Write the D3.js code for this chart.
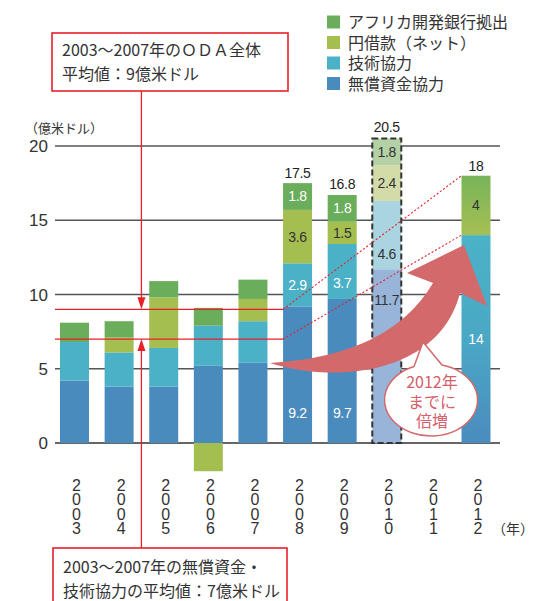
<!DOCTYPE html>
<html>
<head>
<meta charset="utf-8">
<script src="https://cdn.jsdelivr.net/npm/d3@7"></script>
<style>
  body { margin: 0; background: #fff; }
  svg { display: block; }
  .jp { font-family: "Noto Sans CJK JP", sans-serif; }
  .num { font-family: "Liberation Sans", Arial, sans-serif; }
</style>
</head>
<body>
<div id="chart"></div>
<script>
// Data (億米ドル)
const years = ["2003", "2004", "2005", "2006", "2007", "2008", "2009", "2010", "2011", "2012"];
const grantAid = [4.2, 3.8, 3.8, 5.2, 5.4, 9.2, 9.7, 11.7, 0, 0];
const techCoop = [2.6, 2.3, 2.6, 2.7, 2.8, 2.9, 3.7, 4.6, 0, 0];
const yenLoan  = [0, 1.0, 3.4, -1.9, 1.5, 3.6, 1.5, 2.4, 0, 0];
const afdbLoan = [1.3, 1.1, 1.1, 1.2, 1.3, 1.8, 1.8, 1.8, 0, 0];
const totalLabels = ["", "", "", "", "", "17.5", "16.8", "20.5", "", "18"];
const labelledYears = ["2008", "2009", "2010"];
const projectedYear = "2010";
const targetYear = "2012";
const targetGrantTech = 14;
const targetLoanAfdb = 4;
const yTicks = [0, 5, 10, 15, 20];
const avgAll = 9;
const avgGrantTech = 7;

const seriesKeys = ["grant", "tech", "loan", "afdb"];
const seriesNames = {
  afdb: "アフリカ開発銀行拠出",
  loan: "円借款（ネット）",
  tech: "技術協力",
  grant: "無償資金協力"
};
const colors = { afdb: "#6aad5a", loan: "#a5be50", tech: "#4bb1c6", grant: "#4a8bbd" };
const fadedColors = { afdb: "#b3d1a4", loan: "#d3dca9", tech: "#a9d4e0", grant: "#98b4d8" };

const table = years.map((yr, i) => ({
  year: yr, grant: grantAid[i], tech: techCoop[i], loan: yenLoan[i], afdb: afdbLoan[i]
}));

const width = 537, height = 601;
const svg = d3.select("#chart").append("svg")
  .attr("width", width)
  .attr("height", height);

const defs = svg.append("defs");
const g1 = defs.append("linearGradient").attr("id", "gLow").attr("x1", 0).attr("y1", 0).attr("x2", 0).attr("y2", 1);
g1.append("stop").attr("offset", "0%").attr("stop-color", "#4bb2c7");
g1.append("stop").attr("offset", "50%").attr("stop-color", "#4aa8c5");
g1.append("stop").attr("offset", "100%").attr("stop-color", "#4a8cbe");
const g2 = defs.append("linearGradient").attr("id", "gHigh").attr("x1", 0).attr("y1", 0).attr("x2", 0).attr("y2", 1);
g2.append("stop").attr("offset", "0%").attr("stop-color", "#78b45a");
g2.append("stop").attr("offset", "100%").attr("stop-color", "#a6bf52");

// Scales
const x = d3.scaleBand()
  .domain(years)
  .range([52.2, 498.3])
  .paddingInner(0.35)
  .paddingOuter(0.175);

const y = d3.scaleLinear()
  .domain([0, 20])
  .range([443, 146]);

// Gridlines
svg.append("g").selectAll("line")
  .data(yTicks)
  .enter()
  .append("line")
  .attr("x1", 55)
  .attr("x2", 500)
  .attr("y1", d => y(d))
  .attr("y2", d => y(d))
  .attr("stroke", d => d === 0 ? "#333" : "#555")
  .attr("stroke-width", d => d === 0 ? 1.6 : 1.3);

svg.append("g").selectAll("text")
  .data(yTicks)
  .enter()
  .append("text")
  .attr("class", "num")
  .attr("x", 48)
  .attr("y", d => y(d) + 6)
  .attr("text-anchor", "end")
  .attr("font-size", 17)
  .attr("fill", "#333")
  .text(d => d);

svg.append("text")
  .attr("class", "jp")
  .attr("x", 25)
  .attr("y", 133)
  .attr("font-size", 13)
  .attr("fill", "#333")
  .text("（億米ドル）");

// Stacked bars
const stack = d3.stack().keys(seriesKeys).offset(d3.stackOffsetDiverging);
const stacked = stack(table);

stacked.forEach(layer => {
  const key = layer.key;
  svg.append("g").selectAll("rect")
    .data(layer.filter(d => d[1] !== d[0]))
    .enter()
    .append("rect")
    .attr("x", d => x(d.data.year))
    .attr("width", x.bandwidth())
    .attr("y", d => y(Math.max(d[0], d[1])))
    .attr("height", d => Math.abs(y(d[0]) - y(d[1])))
    .attr("fill", d => d.data.year === projectedYear ? fadedColors[key] : colors[key]);
});

// Target year bar
const tx = x(targetYear);
svg.append("rect")
  .attr("x", tx).attr("width", x.bandwidth())
  .attr("y", y(targetGrantTech)).attr("height", y(0) - y(targetGrantTech))
  .attr("fill", "url(#gLow)");
svg.append("rect")
  .attr("x", tx).attr("width", x.bandwidth())
  .attr("y", y(targetGrantTech + targetLoanAfdb)).attr("height", y(targetGrantTech) - y(targetGrantTech + targetLoanAfdb))
  .attr("fill", "url(#gHigh)");

// Dashed frame around projected year
const pIdx = years.indexOf(projectedYear);
const pTop = grantAid[pIdx] + techCoop[pIdx] + yenLoan[pIdx] + afdbLoan[pIdx];
svg.append("rect")
  .attr("x", x(projectedYear))
  .attr("width", x.bandwidth())
  .attr("y", y(pTop))
  .attr("height", y(0) - y(pTop))
  .attr("fill", "none")
  .attr("stroke", "#333")
  .attr("stroke-width", 2)
  .attr("stroke-dasharray", "6,3");

// Segment labels
const labelNudge = { "2009-tech": 12, "2010-tech": 19 };
const grantLabelAt = { "2008": 2, "2009": 2, "2010": 9.6 };
stacked.forEach(layer => {
  const key = layer.key;
  layer.filter(d => labelledYears.includes(d.data.year)).forEach(d => {
    const yr = d.data.year;
    let cy = key === "grant" ? y(grantLabelAt[yr]) : y((d[0] + d[1]) / 2);
    cy += labelNudge[yr + "-" + key] || 0;
    const dark = yr === projectedYear || key === "loan";
    svg.append("text")
      .attr("class", "num")
      .attr("x", x(yr) + x.bandwidth() / 2)
      .attr("y", cy + 5)
      .attr("text-anchor", "middle")
      .attr("font-size", 14)
      .attr("letter-spacing", -0.3)
      .attr("fill", dark ? "#333" : "#fff")
      .text(d.data[key]);
  });
});

svg.append("text")
  .attr("class", "num")
  .attr("x", tx + x.bandwidth() / 2)
  .attr("y", y(targetGrantTech + targetLoanAfdb / 2) + 5)
  .attr("text-anchor", "middle").attr("font-size", 14).attr("fill", "#333")
  .text(targetLoanAfdb);

// Total labels
svg.append("g").selectAll("text")
  .data(years.map((yr, i) => ({ yr, label: totalLabels[i] })).filter(d => d.label))
  .enter()
  .append("text")
  .attr("class", "num")
  .attr("x", d => x(d.yr) + x.bandwidth() / 2)
  .attr("y", d => y(+d.label) - (d.yr === projectedYear ? 7 : 5))
  .attr("text-anchor", "middle")
  .attr("font-size", 14)
  .attr("letter-spacing", -0.3)
  .attr("fill", "#222")
  .text(d => d.label);

// Year labels (stacked digits)
const yearText = svg.append("g").selectAll("text")
  .data(years)
  .enter()
  .append("text")
  .attr("class", "num")
  .attr("text-anchor", "middle")
  .attr("font-size", 16)
  .attr("fill", "#333");
yearText.each(function (yr) {
  const t = d3.select(this);
  yr.split("").forEach((ch, j) => {
    t.append("tspan")
      .attr("x", x(yr) + x.bandwidth() / 2 + 2)
      .attr("y", 491 + j * 14.4)
      .text(ch);
  });
});
svg.append("text")
  .attr("class", "jp")
  .attr("x", 492).attr("y", 534)
  .attr("font-size", 14).attr("fill", "#333")
  .text("（年）");

// Average lines
const red = "#e8202a";
const xLeft = 55;
const x2008 = x("2008");
[avgAll, avgGrantTech].forEach(v => {
  svg.append("line")
    .attr("x1", xLeft).attr("x2", x2008)
    .attr("y1", y(v)).attr("y2", y(v))
    .attr("stroke", red).attr("stroke-width", 1.3);
});
[[avgAll, targetGrantTech + targetLoanAfdb], [avgGrantTech, targetGrantTech]].forEach(([a, b]) => {
  svg.append("line")
    .attr("x1", x2008).attr("y1", y(a))
    .attr("x2", tx).attr("y2", y(b))
    .attr("stroke", red).attr("stroke-width", 1.1)
    .attr("stroke-dasharray", "2,2");
});

// Pointer lines from annotation boxes
const px = (x("2004") + x.bandwidth() + x("2005")) / 2;
svg.append("line").attr("x1", px).attr("x2", px).attr("y1", 91).attr("y2", y(avgAll) - 10)
  .attr("stroke", red).attr("stroke-width", 1.3);
svg.append("path")
  .attr("d", `M${px - 4},${y(avgAll) - 12} L${px + 4},${y(avgAll) - 12} L${px},${y(avgAll)} Z`)
  .attr("fill", red);
svg.append("line").attr("x1", px).attr("x2", px).attr("y1", 548).attr("y2", y(avgGrantTech) + 10)
  .attr("stroke", red).attr("stroke-width", 1.3);
svg.append("path")
  .attr("d", `M${px - 4},${y(avgGrantTech) + 12} L${px + 4},${y(avgGrantTech) + 12} L${px},${y(avgGrantTech)} Z`)
  .attr("fill", red);

// Big curved arrow
svg.append("path")
  .attr("d", "M270,363 Q390,356 433,283 L407,273 L464,245 L487,306 L460,293 C440,372 340,385 270,363 Z")
  .attr("fill", "#d4696c");

// Target bar lower label drawn after gradient
svg.append("text")
  .attr("class", "num")
  .attr("x", tx + x.bandwidth() / 2)
  .attr("y", y(targetGrantTech / 2) + 5)
  .attr("text-anchor", "middle").attr("font-size", 14).attr("fill", "#fff")
  .text(targetGrantTech);

// Speech bubble
svg.append("path")
  .attr("d", "M414,366.5 L423,342 L442,365 A46.5 36 0 1 1 414,366.5 Z")
  .attr("fill", "#fff")
  .attr("stroke", "#d4696c")
  .attr("stroke-width", 1.5);
const bubbleText = svg.append("text")
  .attr("class", "jp")
  .attr("text-anchor", "middle")
  .attr("font-size", 16)
  .attr("fill", "#d4606a");
["2012年", "までに", "倍増"].forEach((t, i) => {
  bubbleText.append("tspan")
    .attr("x", 432).attr("y", 388 + i * 19.5)
    .text(t);
});

// Annotation boxes
function box(bx, by, bw, bh, lines, baseY) {
  svg.append("rect")
    .attr("x", bx).attr("y", by).attr("width", bw).attr("height", bh)
    .attr("fill", "#fff").attr("stroke", red).attr("stroke-width", 1.6);
  lines.forEach((t, i) => {
    svg.append("text")
      .attr("class", "jp")
      .attr("x", bx + 10)
      .attr("y", baseY + i * 24)
      .attr("font-size", 16)
      .attr("fill", "#333")
      .text(t);
  });
}
box(52, 33, 236, 58, ["2003～2007年のＯＤＡ全体", "平均値：9億米ドル"], 56);
box(53, 548, 234, 70, ["2003～2007年の無償資金・", "技術協力の平均値：7億米ドル"], 573);

// Legend
const legendKeys = ["afdb", "loan", "tech", "grant"];
const legend = svg.append("g").attr("transform", "translate(327, 22)");
const item = legend.selectAll("g")
  .data(legendKeys)
  .enter()
  .append("g")
  .attr("transform", (d, i) => "translate(0," + (i * 20.5) + ")");
item.append("rect")
  .attr("y", -6.5).attr("width", 13).attr("height", 13)
  .attr("fill", d => colors[d]);
item.append("text")
  .attr("class", "jp")
  .attr("x", 21).attr("y", 6)
  .attr("font-size", 16)
  .attr("fill", "#333")
  .text(d => seriesNames[d]);
</script>
</body>
</html>
